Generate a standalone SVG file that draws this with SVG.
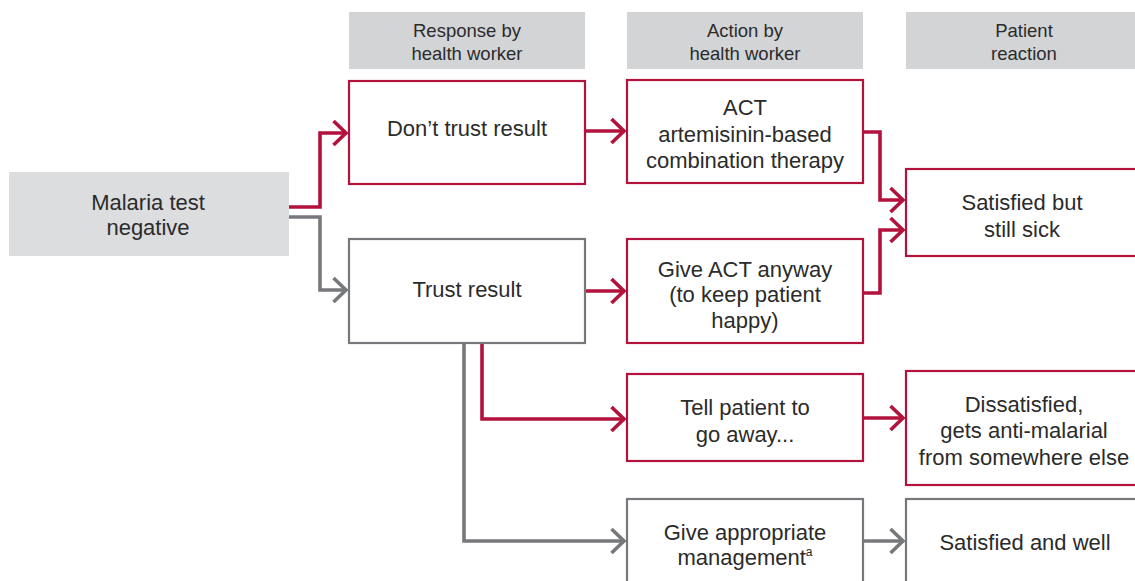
<svg xmlns="http://www.w3.org/2000/svg" width="1135" height="581" viewBox="0 0 1135 581">
<style>
  text { font-family: "Liberation Sans", Arial, sans-serif; fill: #2b2b2b; text-anchor: middle; }
  .hd { font-size: 18.5px; }
  .bx { font-size: 22px; }
  .hdr { fill: #d3d4d6; }
  .red { fill: #ffffff; stroke: #b3123c; stroke-width: 2.2; }
  .gry { fill: #ffffff; stroke: #77787b; stroke-width: 2.2; }
  .cr { fill: none; stroke: #b3123c; stroke-width: 3.6; marker-end: url(#ar); }
  .cg { fill: none; stroke: #77787b; stroke-width: 3.6; marker-end: url(#ag); }
</style>
<defs>
  <marker id="ar" markerUnits="userSpaceOnUse" orient="auto" markerWidth="34" markerHeight="34" viewBox="-17 -17 34 34" refX="0" refY="0" overflow="visible">
    <path d="M-12.5,-12 L0,0 L-12.5,12" fill="none" stroke="#b3123c" stroke-width="3.6"/>
  </marker>
  <marker id="ag" markerUnits="userSpaceOnUse" orient="auto" markerWidth="34" markerHeight="34" viewBox="-17 -17 34 34" refX="0" refY="0" overflow="visible">
    <path d="M-12.5,-12 L0,0 L-12.5,12" fill="none" stroke="#77787b" stroke-width="3.6"/>
  </marker>
</defs>
<rect width="1135" height="581" fill="#ffffff"/>

<g id="header-response">
  <rect class="hdr" x="349" y="12" width="236" height="57"/>
  <text class="hd" x="467" y="37">Response by</text>
  <text class="hd" x="467" y="60">health worker</text>
</g>
<g id="header-action">
  <rect class="hdr" x="627" y="12" width="236" height="57"/>
  <text class="hd" x="745" y="37">Action by</text>
  <text class="hd" x="745" y="60">health worker</text>
</g>
<g id="header-patient">
  <rect class="hdr" x="906" y="12" width="236" height="57"/>
  <text class="hd" x="1024" y="37">Patient</text>
  <text class="hd" x="1024" y="60">reaction</text>
</g>

<g id="connectors">
  <path class="cr" d="M289,207 H320 V133 H346"/>
  <path class="cg" d="M289,217 H320 V290 H346"/>
  <path class="cr" d="M585,131 H624"/>
  <path class="cr" d="M585,291 H624"/>
  <path class="cr" d="M863,132 H880 V200 H903"/>
  <path class="cr" d="M863,293 H880 V230 H903"/>
  <path class="cr" d="M482,343 V419 H624"/>
  <path class="cg" d="M464,343 V541 H624"/>
  <path class="cr" d="M863,418 H903"/>
  <path class="cg" d="M863,541 H903"/>
</g>

<g id="malaria-test">
  <rect x="9" y="172" width="280" height="84" fill="#dcdddf"/>
  <text class="bx" x="148" y="210">Malaria test</text>
  <text class="bx" x="148" y="235">negative</text>
</g>
<g id="dont-trust">
  <rect class="red" x="349" y="81" width="236" height="103"/>
  <text class="bx" x="467" y="136">Don’t trust result</text>
</g>
<g id="trust">
  <rect class="gry" x="349" y="239" width="236" height="104"/>
  <text class="bx" x="467" y="297">Trust result</text>
</g>
<g id="act">
  <rect class="red" x="627" y="80" width="236" height="103"/>
  <text class="bx" x="745" y="115">ACT</text>
  <text class="bx" x="745" y="141.5">artemisinin-based</text>
  <text class="bx" x="745" y="168">combination therapy</text>
</g>
<g id="give-act">
  <rect class="red" x="627" y="239" width="236" height="104"/>
  <text class="bx" x="745" y="276.5">Give ACT anyway</text>
  <text class="bx" x="745" y="302">(to keep patient</text>
  <text class="bx" x="745" y="327.5">happy)</text>
</g>
<g id="tell-away">
  <rect class="red" x="627" y="374" width="236" height="87"/>
  <text class="bx" x="745" y="415">Tell patient to</text>
  <text class="bx" x="745" y="441.5">go away...</text>
</g>
<g id="give-management">
  <rect class="gry" x="627" y="499" width="236" height="100"/>
  <text class="bx" x="745" y="540">Give appropriate</text>
  <text class="bx" x="745" y="565">management<tspan font-size="12" dy="-9">a</tspan></text>
</g>
<g id="satisfied-sick">
  <rect class="red" x="906" y="169" width="240" height="87"/>
  <text class="bx" x="1022" y="210">Satisfied but</text>
  <text class="bx" x="1022" y="236.5">still sick</text>
</g>
<g id="dissatisfied">
  <rect class="red" x="906" y="371" width="240" height="114"/>
  <text class="bx" x="1024" y="411.5">Dissatisfied,</text>
  <text class="bx" x="1024" y="438">gets anti-malarial</text>
  <text class="bx" x="1024" y="465">from somewhere else</text>
</g>
<g id="satisfied-well">
  <rect class="gry" x="906" y="499" width="240" height="100"/>
  <text class="bx" x="1025" y="550">Satisfied and well</text>
</g>
</svg>
